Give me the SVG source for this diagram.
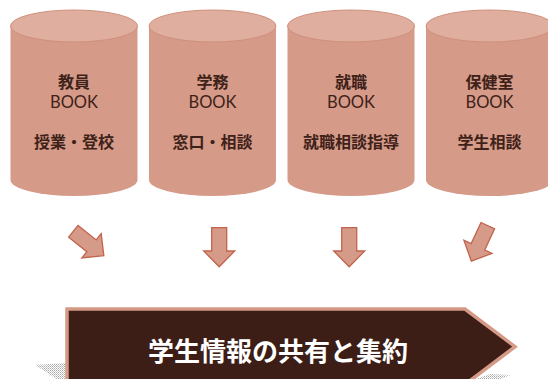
<svg xmlns="http://www.w3.org/2000/svg" width="548" height="379" viewBox="0 0 548 379">
  <style>
    .body { fill: #D69A88; }
    .top { fill: #DFAE9E; stroke: #CF907D; stroke-width: 1; }
    .jp { font-family: "Noto Sans CJK JP", "Noto Sans CJK SC", sans-serif; font-size: 16px; font-weight: bold; fill: #3E2219; text-anchor: middle; }
    .en { font-family: "Lato", "Liberation Sans", sans-serif; font-size: 16.5px; fill: #3E2219; text-anchor: middle; }
    .arrow { fill: #D69A88; stroke: #C2634C; stroke-width: 1.3; stroke-linejoin: miter; }
    .banner { fill: #3C1E16; stroke: #D49A87; stroke-width: 3.5; }
    .title { font-family: "Noto Sans CJK JP", "Noto Sans CJK SC", sans-serif; font-size: 26px; font-weight: bold; fill: #FFFFFF; text-anchor: middle; }
  </style>
  <defs>
    <pattern id="dots" width="2" height="2" patternUnits="userSpaceOnUse">
      <rect width="2" height="2" fill="#ffffff"/>
      <rect width="1" height="1" fill="#a8a8a8"/>
      <rect x="1" y="1" width="1" height="1" fill="#c8c8c8"/>
    </pattern>
    <path id="arr" d="M -7.5,0 L 7.5,0 L 7.5,23.3 L 15.5,23.3 L 0,39 L -15.5,23.3 L -7.5,23.3 Z"/>
  </defs>

  <g id="node-kyoin">
    <path class="body" d="M 10.5,26 L 137.5,26 L 137.5,180 A 63.5,16 0 0 1 10.5,180 Z"/>
    <ellipse class="top" cx="74" cy="26" rx="63.5" ry="16"/>
    <text class="jp" x="74" y="88">教員</text>
    <text class="en" x="74" y="108">BOOK</text>
    <text class="jp" x="74" y="148">授業・登校</text>
  </g>

  <g id="node-gakumu">
    <path class="body" d="M 149,26 L 276,26 L 276,180 A 63.5,16 0 0 1 149,180 Z"/>
    <ellipse class="top" cx="212.5" cy="26" rx="63.5" ry="16"/>
    <text class="jp" x="212.5" y="88">学務</text>
    <text class="en" x="212.5" y="108">BOOK</text>
    <text class="jp" x="212.5" y="148">窓口・相談</text>
  </g>

  <g id="node-shushoku">
    <path class="body" d="M 287.5,26 L 414.5,26 L 414.5,180 A 63.5,16 0 0 1 287.5,180 Z"/>
    <ellipse class="top" cx="351" cy="26" rx="63.5" ry="16"/>
    <text class="jp" x="351" y="88">就職</text>
    <text class="en" x="351" y="108">BOOK</text>
    <text class="jp" x="351" y="148">就職相談指導</text>
  </g>

  <g id="node-hokenshitsu">
    <path class="body" d="M 426,26 L 553,26 L 553,180 A 63.5,16 0 0 1 426,180 Z"/>
    <ellipse class="top" cx="489.5" cy="26" rx="63.5" ry="16"/>
    <text class="jp" x="489.5" y="88">保健室</text>
    <text class="en" x="489.5" y="108">BOOK</text>
    <text class="jp" x="489.5" y="148">学生相談</text>
  </g>

  <g id="connectors">
    <use href="#arr" class="arrow" transform="translate(73.3,231.3) rotate(-51.5)"/>
    <use href="#arr" class="arrow" transform="translate(219.2,227.7)"/>
    <use href="#arr" class="arrow" transform="translate(349.2,227.7)"/>
    <use href="#arr" class="arrow" transform="translate(487.8,225.7) rotate(25)"/>
  </g>

  <g id="node-banner">
    <polygon fill="url(#dots)" points="35,365 66,363 66,379 57,379"/>
    <polygon fill="url(#dots)" points="476,379 490,374 511,375 500,379"/>
    <path class="banner" d="M 67,309 L 465,309 L 515,346.7 L 465,384.4 L 67,384.4 Z"/>
    <text class="title" x="278" y="360.5">学生情報の共有と集約</text>
  </g>
</svg>
